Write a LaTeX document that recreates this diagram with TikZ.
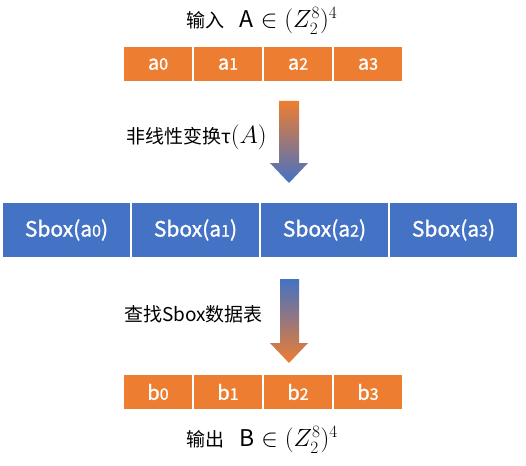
\documentclass[tikz,border=0pt]{standalone}
\usepackage{fontspec}
\setmainfont{Noto Sans CJK SC}
\newfontfamily\cjk{Noto Sans CJK SC}
\newfontfamily\cellfont[FakeBold=1.2]{Noto Sans CJK SC}
\usepackage{amsmath}
\definecolor{myorange}{HTML}{ED7D31}
\definecolor{myblue}{HTML}{4472C4}
\newcommand{\dg}[1]{{\fontsize{16}{16}\selectfont #1}}
\newcommand{\bigmath}[1]{{\fontsize{23}{23}\selectfont$#1$}}
\begin{document}
\begin{tikzpicture}[x=1pt,y=-1pt,
  ocell/.style={fill=myorange,draw=white,line width=1.2pt,minimum width=70pt,minimum height=36pt,inner sep=0pt,text=white,font=\cellfont\fontsize{20}{20}\selectfont},
  bcell/.style={fill=myblue,draw=white,line width=1.2pt,minimum width=129pt,minimum height=56pt,inner sep=0pt,text=white,font=\cellfont\fontsize{21}{21}\selectfont},
  lbl/.style={font=\cjk\fontsize{19}{19}\selectfont,inner sep=0pt},
  ttl/.style={font=\cjk\fontsize{19}{19}\selectfont,inner sep=0pt}]
\useasboundingbox (0,0) rectangle (526,465);
\fill[white] (0,0) rectangle (526,465);
% top title
\node[ttl] (tin) at (262,21) {输入\hspace{0.8em}\bigmath{\mathrm{A}\in(Z_2^8)^4}};
% top row
\foreach \i in {0,1,2,3}{
  \node[ocell] (a\i) at ({158+70*\i},64) {a\dg{\i}};
}
% arrow 1
\shade[top color=myorange,bottom color=myblue]
  (279,101) -- (299,101) -- (299,163) -- (308,163) -- (289,183) -- (270,163) -- (279,163) -- cycle;
\node[lbl,anchor=east] (l1) at (267,137) {非线性变换τ\bigmath{(A)}};
% Sbox row
\foreach \i in {0,1,2,3}{
  \node[bcell] (s\i) at ({66.5+129*\i},230) {Sbox(a\dg{\i})};
}
% arrow 2
\shade[top color=myblue,bottom color=myorange]
  (280,279) -- (299,279) -- (299,343) -- (308,343) -- (289,363) -- (270,343) -- (280,343) -- cycle;
\node[lbl,anchor=east] (l2) at (263,314) {查找Sbox数据表};
% bottom row
\foreach \i in {0,1,2,3}{
  \node[ocell] (b\i) at ({158+70*\i},392) {b\dg{\i}};
}
\node[ttl] (tout) at (262,440) {输出\hspace{0.8em}\bigmath{\mathrm{B}\in(Z_2^8)^4}};
\end{tikzpicture}
\end{document}
